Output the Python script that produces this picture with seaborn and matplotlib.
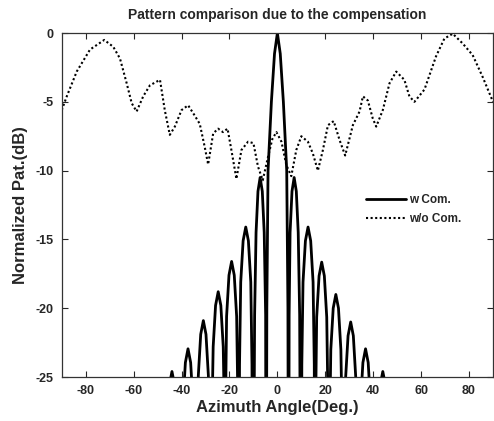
import numpy as np
import pandas as pd
import matplotlib
matplotlib.use('Agg')
from matplotlib import pyplot as plt
import seaborn as sns

# pattern with compensation (angle in deg, level in dB), read lobe by lobe
w_com_angle = [
    -90.0, -47.0,
    -46.7, -46.1, -45.1, -44.0, -42.9, -41.9, -41.3, -40.6,
    -40.0, -39.4, -38.4, -37.3, -36.2, -35.2, -34.6, -34.1,
    -33.6, -33.0, -32.0, -30.9, -29.8, -28.8, -28.2, -27.8,
    -27.4, -26.8, -25.8, -24.7, -23.6, -22.6, -22.0, -21.8,
    -21.6, -21.2, -20.2, -19.1, -18.0, -17.0, -16.5, -16.2,
    -15.8, -15.3, -14.3, -13.2, -12.1, -11.1, -10.6, -10.2,
    -9.5, -8.9, -8.1, -7.2, -6.3, -5.5, -4.9, -4.7,
    -4.4, -3.9, -2.5, -1.2, 0.0, 1.2, 2.5, 3.9, 4.4, 4.7,
    4.9, 5.3, 6.1, 7.0, 7.9, 8.7, 9.3, 9.9,
    10.2, 10.7, 11.7, 12.8, 13.9, 14.9, 15.4, 15.7,
    16.0, 16.4, 17.4, 18.5, 19.6, 20.6, 21.1, 21.5,
    21.8, 22.3, 23.3, 24.4, 25.5, 26.5, 27.1, 27.5,
    27.9, 28.5, 29.5, 30.6, 31.7, 32.7, 33.3, 33.7,
    34.1, 34.7, 35.7, 36.8, 37.9, 38.9, 39.5, 40.4,
    41.3, 41.9, 42.9, 44.0, 45.1, 46.1, 46.7, 47.0,
    90.0,
]
w_com_db = [
    -45, -45,
    -34.6, -28.6, -25.6, -24.6, -25.6, -28.6, -34.6, -45,
    -32.95, -26.95, -23.95, -22.95, -23.95, -26.95, -32.95, -45,
    -30.9, -24.9, -21.9, -20.9, -21.9, -24.9, -30.9, -45,
    -28.8, -22.8, -19.8, -18.8, -19.8, -22.8, -28.8, -45,
    -26.6, -20.6, -17.6, -16.6, -17.6, -20.6, -26.6, -45,
    -24.1, -18.1, -15.1, -14.1, -15.1, -18.1, -24.1, -45,
    -20.5, -14.5, -11.5, -10.5, -11.5, -14.5, -20.5, -45,
    -20, -10, -5, -1.5, 0, -1.5, -5, -10, -20, -45,
    -20.5, -14.5, -11.5, -10.5, -11.5, -14.5, -20.5, -45,
    -24.1, -18.1, -15.1, -14.1, -15.1, -18.1, -24.1, -45,
    -26.65, -20.65, -17.65, -16.65, -17.65, -20.65, -26.65, -45,
    -29, -23, -20, -19, -20, -23, -29, -45,
    -31, -25, -22, -21, -22, -25, -31, -45,
    -32.95, -26.95, -23.95, -22.95, -23.95, -26.95, -32.95, -45,
    -34.6, -28.6, -25.6, -24.6, -25.6, -28.6, -34.6, -45,
    -45,
]

# pattern without compensation
wo_com_angle = [
    -90.0, -87.9, -83.75, -78.2, -72.25, -68.5, -65.7, -62.9, -60.8, -58.75,
    -56.0, -53.2, -49.0, -47.0, -44.9, -42.8, -40.0, -37.25, -34.5, -32.4,
    -30.3, -28.9, -26.8, -24.75, -22.7, -20.8, -19.2, -17.1, -15.0, -12.25,
    -10.0, -8.1, -6.1, -3.9, -2.1, -0.4, 1.7, 3.75, 5.8, 7.9,
    10.0, 12.75, 14.8, 16.9, 19.0, 21.1, 23.5, 26.0, 28.3, 31.5,
    34.3, 35.7, 37.75, 39.8, 41.25, 44.0, 46.8, 49.6, 53.0, 55.1,
    57.2, 61.4, 66.2, 69.7, 73.2, 77.3, 81.5, 85.7, 90.0,
]
wo_com_db = [
    -5.6, -4.6, -2.8, -1.2, -0.5, -1.0, -1.85, -3.65, -5.1, -5.7,
    -4.6, -3.8, -3.4, -5.6, -7.4, -6.8, -5.6, -5.25, -6.0, -6.6,
    -8.3, -9.55, -7.3, -6.95, -7.2, -6.95, -8.5, -10.6, -8.5, -7.9,
    -8.0, -9.7, -10.7, -9.0, -7.7, -7.2, -7.9, -9.6, -10.4, -8.5,
    -7.5, -7.9, -8.75, -10.0, -8.5, -6.7, -6.4, -7.8, -8.9, -6.7,
    -5.7, -4.6, -4.9, -6.2, -6.8, -5.6, -3.65, -2.8, -3.4, -4.6,
    -5.0, -4.1, -1.7, -0.4, -0.05, -0.75, -1.6, -3.2, -5.0,
]

series_labels = ['w Com.', 'w/o Com.']

df_w = pd.DataFrame({'angle': w_com_angle, 'db': w_com_db})
df_wo = pd.DataFrame({'angle': wo_com_angle, 'db': wo_com_db})

sns.set_style('ticks')
plt.rcParams['font.family'] = ['Liberation Sans', 'DejaVu Sans']
plt.rcParams['axes.unicode_minus'] = False

fig = plt.figure(figsize=(4.94, 4.21), dpi=100)
ax = fig.add_axes([0.125, 0.1045, 0.873, 0.817])

sns.lineplot(data=df_w, x='angle', y='db', ax=ax, color='black', linewidth=2.0,
             sort=False, estimator=None, label=series_labels[0])
sns.lineplot(data=df_wo, x='angle', y='db', ax=ax, color='black', linewidth=1.5,
             linestyle=(0, (1, 1.2)), sort=False, estimator=None, label=series_labels[1])

ax.set_xlim(-90, 90)
ax.set_ylim(-25, 0)
ax.set_xticks([-80, -60, -40, -20, 0, 20, 40, 60, 80])
ax.set_yticks([0, -5, -10, -15, -20, -25])
ax.tick_params(direction='in', top=True, right=True, length=4, width=0.8,
               labelsize=9, pad=6)
for lab in ax.get_xticklabels() + ax.get_yticklabels():
    lab.set_fontweight('bold')
for sp in ax.spines.values():
    sp.set_linewidth(0.9)
    sp.set_color('#333333')

ax.set_title('Pattern comparison due to the compensation', fontsize=10,
             fontweight='bold', pad=10)
ax.set_xlabel('Azimuth Angle(Deg.)', fontsize=12, fontweight='bold', labelpad=2)
ax.set_ylabel('Normalized Pat.(dB)', fontsize=12, fontweight='bold', labelpad=5)

leg = ax.legend(loc='upper left', bbox_to_anchor=(0.695, 0.545), frameon=False,
                fontsize=8.5, handlelength=3.4, handletextpad=0.25,
                labelspacing=0.55, borderaxespad=0)
for t in leg.get_texts():
    t.set_fontweight('bold')

fig.savefig('out.png', dpi=100)
